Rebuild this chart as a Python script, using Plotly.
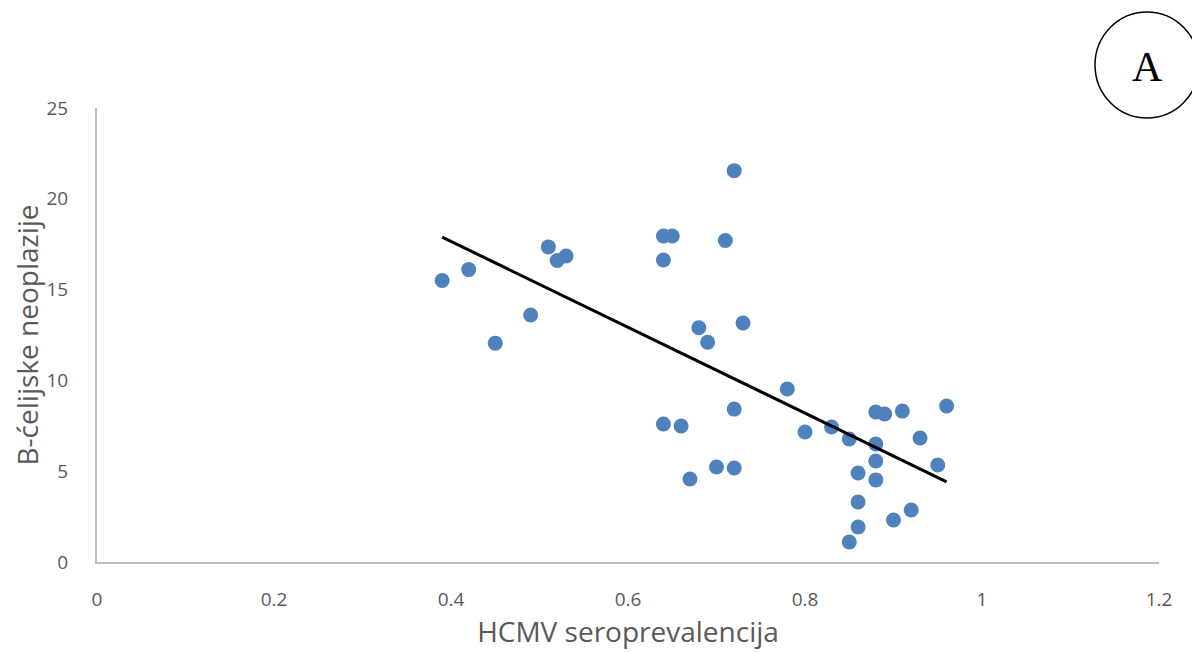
import numpy as np
import plotly.graph_objects as go

x_vals = [0.39, 0.42, 0.45, 0.49, 0.51, 0.52, 0.53, 0.64, 0.65, 0.64,
          0.71, 0.72, 0.68, 0.69, 0.73, 0.78, 0.72, 0.64, 0.66, 0.67,
          0.70, 0.72, 0.80, 0.83, 0.85, 0.88, 0.89, 0.91, 0.96, 0.88,
          0.93, 0.88, 0.95, 0.86, 0.88, 0.86, 0.92, 0.90, 0.86, 0.85]
y_vals = [15.5, 16.1, 12.05, 13.6, 17.35, 16.6, 16.85, 17.95, 17.95, 16.63,
          17.7, 21.55, 12.9, 12.1, 13.16, 9.53, 8.42, 7.6, 7.49, 4.57,
          5.23, 5.18, 7.16, 7.43, 6.77, 8.26, 8.15, 8.31, 8.59, 6.5,
          6.83, 5.56, 5.34, 4.9, 4.52, 3.3, 2.86, 2.31, 1.93, 1.1]

x_title = "HCMV seroprevalencija"
y_title = "B-ćelijske neoplazije"
panel_label = "A"

slope, intercept = np.polyfit(x_vals, y_vals, 1)
x_line = [min(x_vals), max(x_vals)]
y_line = [slope * v + intercept for v in x_line]

grey = "#595959"
font_family = "Open Sans, Liberation Sans, sans-serif"

OFF = 8  # page body margin offset
W, H = 1200, 652
L, R, T, B = 97 - OFF, 41 + OFF, 108 - OFF, 90 + OFF
PW, PH = W - L - R, H - T - B

def px_to_paper_x(px):
    return (px - OFF - L) / PW

def px_to_paper_y(py):
    return (H - B - (py - OFF)) / PH

fig = go.Figure()
fig.add_trace(go.Scatter(
    x=x_vals, y=y_vals, mode="markers",
    marker=dict(color="#4f81bd", size=15, line=dict(width=0)),
    showlegend=False, hoverinfo="skip"))
fig.add_trace(go.Scatter(
    x=x_line, y=y_line, mode="lines",
    line=dict(color="black", width=3),
    showlegend=False, hoverinfo="skip"))

fig.update_layout(
    width=W, height=H,
    margin=dict(l=L, r=R, t=T, b=B),
    paper_bgcolor="white", plot_bgcolor="white",
    font=dict(family=font_family, color=grey, size=19),
    xaxis=dict(range=[0, 1.2], tick0=0, dtick=0.2, showgrid=False,
               zeroline=False, showline=True, linecolor="#bfbfbf", linewidth=2,
               ticks="", ticklabelstandoff=19, automargin=False,
               tickfont=dict(size=19, color=grey),
               title=dict(text=x_title, font=dict(size=28, color=grey), standoff=12)),
    yaxis=dict(range=[0, 25], tick0=0, dtick=5, showgrid=False,
               zeroline=False, showline=True, linecolor="#bfbfbf", linewidth=2,
               ticks="", ticklabelstandoff=23, automargin=False,
               tickfont=dict(size=19, color=grey),
               title=dict(text=y_title, font=dict(size=28, color=grey), standoff=10)),
)

fig.add_shape(type="circle", xref="paper", yref="paper",
              x0=px_to_paper_x(1095), x1=px_to_paper_x(1199),
              y0=px_to_paper_y(118), y1=px_to_paper_y(12),
              line=dict(color="black", width=1.5), fillcolor="rgba(0,0,0,0)")
fig.add_annotation(text=panel_label, xref="paper", yref="paper",
                   x=px_to_paper_x(1147), y=px_to_paper_y(67),
                   xanchor="center", yanchor="middle",
                   showarrow=False,
                   font=dict(family="Liberation Serif, DejaVu Serif, serif", size=42, color="black"))

fig.write_html("out.html")
